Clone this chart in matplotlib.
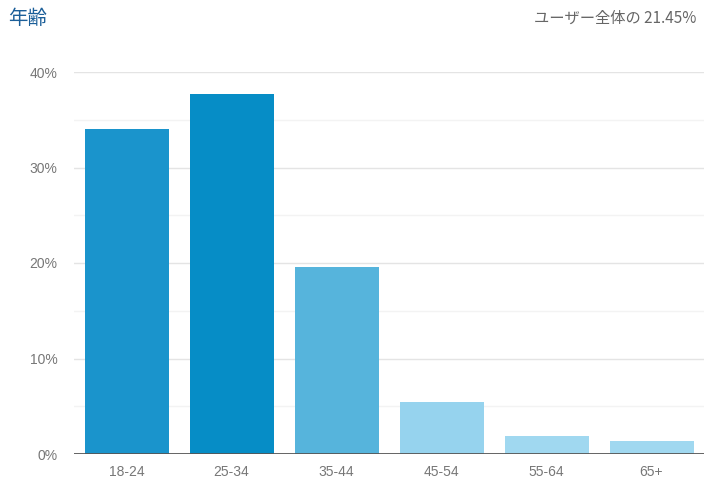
import matplotlib.pyplot as plt
import numpy as np

plt.rcParams['font.family'] = ['Liberation Sans', 'Noto Sans CJK JP', 'DejaVu Sans']

# Data
age_groups = ["18-24", "25-34", "35-44", "45-54", "55-64", "65+"]
share = [34.0, 37.7, 19.6, 5.4, 1.9, 1.4]
bar_colors = ["#1a94cc", "#068dc6", "#56b4dc", "#96d3ee", "#a0d8f0", "#a0d8f0"]
y_ticks = [0, 10, 20, 30, 40]
y_minor = [5, 15, 25, 35]

fig = plt.figure(figsize=(7.07, 4.82), dpi=100)
ax = fig.add_axes([74 / 707, 28 / 482, 630 / 707, (454 - 72) / 482])

x = np.arange(len(age_groups))
ax.bar(x, share, width=0.8, color=bar_colors, zorder=3)

ax.set_xlim(-0.5, len(age_groups) - 0.5)
ax.set_ylim(0, 40)

# gridlines
for v in y_ticks[1:]:
    ax.axhline(v, color="#e4e4e4", linewidth=1, zorder=1)
for v in y_minor:
    ax.axhline(v, color="#f3f3f3", linewidth=1, zorder=1)
ax.axhline(0, color="#555555", linewidth=2, zorder=4)

ax.set_yticks(y_ticks)
ax.set_yticklabels([f"{v}%" for v in y_ticks])
ax.set_xticks(x)
ax.set_xticklabels(age_groups)
ax.tick_params(axis="both", length=0, labelsize=10, colors="#777777")
ax.tick_params(axis="y", pad=12)
ax.tick_params(axis="x", pad=8)

for s in ax.spines.values():
    s.set_visible(False)

fig.text(8 / 707, 1 - 18 / 482, "年齢", fontsize=14, color="#1c5f99",
         family=['Noto Sans CJK JP', 'DejaVu Sans'], va="center", ha="left")
fig.text(696 / 707, 1 - 18 / 482, "ユーザー全体の 21.45%", fontsize=11,
         color="#666666", family=['Noto Sans CJK JP', 'DejaVu Sans'],
         va="center", ha="right")

fig.savefig("out.png", dpi=100)
plt.close(fig)
